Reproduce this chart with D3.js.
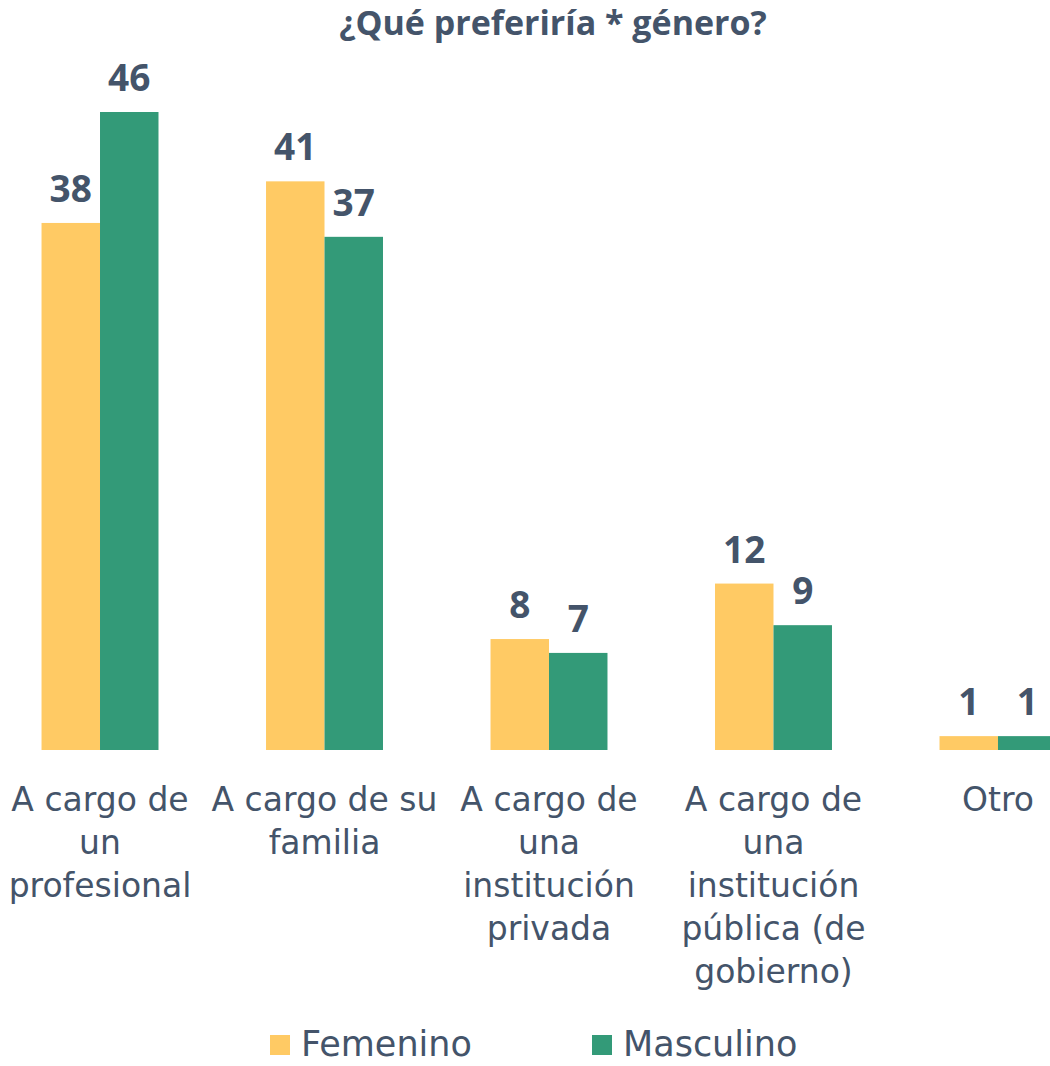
<!DOCTYPE html>
<html>
<head>
<meta charset="utf-8">
<script src="https://cdn.jsdelivr.net/npm/d3@7"></script>
<style>
  body { margin: 0; background: #fff; }
  svg { display: block; }
</style>
</head>
<body>
<script>
var categories = [
    ["A cargo de", "un", "profesional"],
    ["A cargo de su", "familia"],
    ["A cargo de", "una", "institución", "privada"],
    ["A cargo de", "una", "institución", "pública (de", "gobierno)"],
    ["Otro"]
];
var seriesNames = ["Femenino", "Masculino"];
var femenino = [38, 41, 8, 12, 1];
var masculino = [46, 37, 7, 9, 1];

var colors = ["#FFCA64", "#339A78"];
var textColor = "#44546A";

var width = 1050,
    height = 1066;

var svg = d3.select("body").append("svg")
    .attr("width", width)
    .attr("height", height);

var keys = categories.map(function(c, i) { return "c" + i; });

var x = d3.scaleBand()
    .domain(keys)
    .range([0, 1098])
    .paddingInner(0.479)
    .paddingOuter(0.185);

var x1 = d3.scaleBand()
    .domain(seriesNames)
    .range([0, x.bandwidth()]);

var y = d3.scaleLinear()
    .domain([0, 46])
    .range([750, 112]);

var rows = keys.map(function(k, i) {
    return { key: k, values: [femenino[i], masculino[i]] };
});

// title
svg.append("text")
    .attr("x", 553)
    .attr("y", 35)
    .attr("text-anchor", "middle")
    .style("font-family", "'Open Sans', sans-serif")
    .style("font-weight", "bold")
    .style("font-size", "34px")
    .style("fill", textColor)
    .text("¿Qué preferiría * género?");

var group = svg.append("g")
    .selectAll("g")
    .data(rows)
    .enter().append("g")
    .attr("transform", function(d) { return "translate(" + x(d.key) + ",0)"; });

group.selectAll("rect")
    .data(function(d) { return d.values.map(function(v, j) { return { name: seriesNames[j], value: v, i: j }; }); })
    .enter().append("rect")
    .attr("x", function(d) { return x1(d.name); })
    .attr("y", function(d) { return y(d.value); })
    .attr("width", x1.bandwidth())
    .attr("height", function(d) { return y(0) - y(d.value); })
    .style("fill", function(d) { return colors[d.i]; });

group.selectAll("text")
    .data(function(d) { return d.values.map(function(v, j) { return { name: seriesNames[j], value: v }; }); })
    .enter().append("text")
    .attr("x", function(d) { return x1(d.name) + x1.bandwidth() / 2; })
    .attr("y", function(d) { return y(d.value) - 21; })
    .attr("text-anchor", "middle")
    .style("font-family", "'Open Sans', sans-serif")
    .style("font-weight", "bold")
    .style("font-size", "37px")
    .style("fill", textColor)
    .text(function(d) { return d.value; });

// category labels
var labels = svg.append("g")
    .selectAll("text")
    .data(rows)
    .enter().append("text")
    .attr("text-anchor", "middle")
    .style("font-family", "'DejaVu Sans', sans-serif")
    .style("font-size", "33px")
    .style("fill", textColor);

labels.each(function(d, i) {
    var t = d3.select(this);
    categories[i].forEach(function(line, k) {
        t.append("tspan")
            .attr("x", x(d.key) + x.bandwidth() / 2)
            .attr("y", 811 + k * 43)
            .text(line);
    });
});

// legend
var legendX = [270, 592];
var legend = svg.append("g")
    .selectAll("g")
    .data(seriesNames)
    .enter().append("g")
    .attr("transform", function(d, i) { return "translate(" + legendX[i] + ",1035)"; });

legend.append("rect")
    .attr("width", 20)
    .attr("height", 20)
    .style("fill", function(d, i) { return colors[i]; });

legend.append("text")
    .attr("x", 31)
    .attr("y", 21)
    .style("font-family", "'DejaVu Sans', sans-serif")
    .style("font-size", "35px")
    .style("fill", textColor)
    .text(function(d) { return d; });
</script>
</body>
</html>
